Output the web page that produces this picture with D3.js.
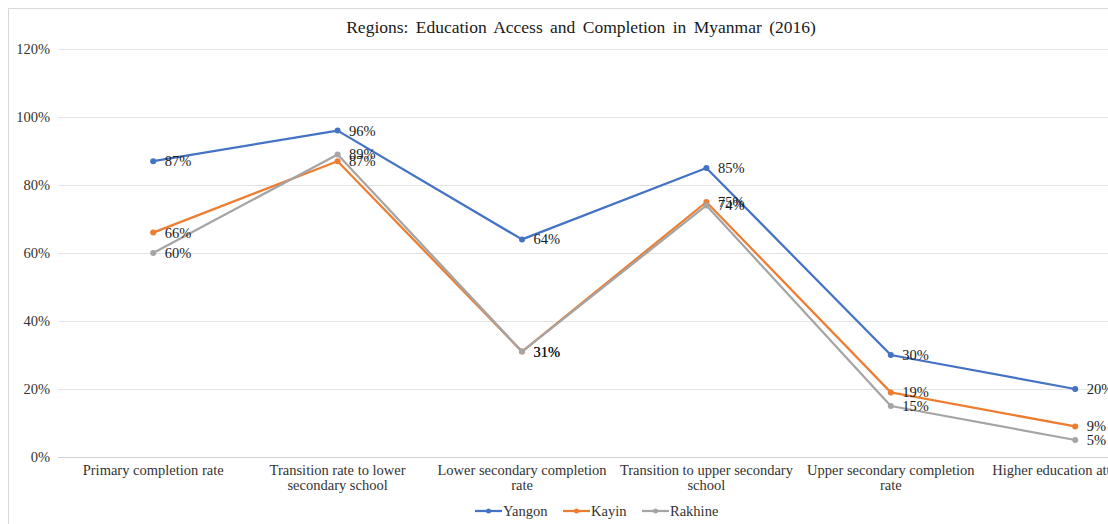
<!DOCTYPE html>
<html>
<head>
<meta charset="utf-8">
<script src="https://cdn.jsdelivr.net/npm/d3@7"></script>
<style>
  html, body { margin: 0; padding: 0; background: #fff; overflow: hidden; }
  svg { display: block; }
</style>
</head>
<body>
<div id="chart"></div>
<script>
// Data
const categories = [
    'Primary completion rate',
    'Transition rate to lower secondary school',
    'Lower secondary completion rate',
    'Transition to upper secondary school',
    'Upper secondary completion rate',
    'Higher education attendance'
];
// wrapped category labels, as they appear under the axis
const categoryLines = [
    ['Primary completion rate'],
    ['Transition rate to lower', 'secondary school'],
    ['Lower secondary completion', 'rate'],
    ['Transition to upper secondary', 'school'],
    ['Upper secondary completion', 'rate'],
    ['Higher education attendance']
];
const seriesNames = ['Yangon', 'Kayin', 'Rakhine'];
const yangon = [0.87, 0.96, 0.64, 0.85, 0.30, 0.20];
const kayin = [0.66, 0.87, 0.31, 0.75, 0.19, 0.09];
const rakhine = [0.60, 0.89, 0.31, 0.74, 0.15, 0.05];
const yTicks = [0, 0.2, 0.4, 0.6, 0.8, 1.0, 1.2];

const colors = ['#4472C4', '#ED7D31', '#A5A5A5'];
const series = [yangon, kayin, rakhine].map((vals, i) => ({
    name: seriesNames[i],
    color: colors[i],
    values: vals.map((v, j) => ({ cat: categories[j], v }))
}));

const W = 1108, H = 524;
const font = '"Liberation Serif", "Times New Roman", serif';
const fs = 14.5;

const svg = d3.select('#chart').append('svg')
    .attr('width', W)
    .attr('height', H)
    .style('font-family', font);

// chart frame (runs off the right and bottom of the picture)
svg.append('rect')
    .attr('x', 8.5).attr('y', 8.5)
    .attr('width', 1300).attr('height', 600)
    .attr('fill', '#fff')
    .attr('stroke', '#d9d9d9');

// plot area: categories every ~184px, first one centred at x=153
const x = d3.scaleBand()
    .domain(categories)
    .range([61, 61 + 184.4 * categories.length]);

const y = d3.scaleLinear()
    .domain([0, 1.2])
    .range([457, 49]);

// gridlines
svg.append('g')
    .selectAll('line')
    .data(yTicks)
    .join('line')
    .attr('x1', 58)
    .attr('x2', 1300)
    .attr('y1', d => Math.round(y(d)) + 0.5)
    .attr('y2', d => Math.round(y(d)) + 0.5)
    .attr('stroke', d => d === 0 ? '#d0d0d0' : '#e3e3e3')
    .attr('stroke-width', 1);

// y axis labels
const yAxis = svg.append('g')
    .attr('transform', 'translate(50,0)')
    .call(d3.axisLeft(y).tickValues(yTicks).tickFormat(d3.format('.0%')).tickSize(0).tickPadding(0));
yAxis.select('.domain').remove();
yAxis.selectAll('text')
    .attr('font-family', font)
    .attr('font-size', fs)
    .attr('fill', '#333');

// x axis labels (wrapped)
const xLab = svg.append('g')
    .selectAll('text')
    .data(categories)
    .join('text')
    .attr('x', d => x(d) + x.bandwidth() / 2)
    .attr('y', 475)
    .attr('text-anchor', 'middle')
    .attr('font-size', fs)
    .attr('fill', '#333');
xLab.each(function (d, i) {
    d3.select(this).selectAll('tspan')
        .data(categoryLines[i])
        .join('tspan')
        .attr('x', x(d) + x.bandwidth() / 2)
        .attr('dy', (t, k) => k === 0 ? 0 : 15)
        .text(t => t);
});

const line = d3.line()
    .x(d => x(d.cat) + x.bandwidth() / 2)
    .y(d => y(d.v));

const sg = svg.append('g')
    .selectAll('g')
    .data(series)
    .join('g');

sg.append('path')
    .attr('d', d => line(d.values))
    .attr('fill', 'none')
    .attr('stroke', d => d.color)
    .attr('stroke-width', 2.25)
    .attr('stroke-linejoin', 'round');

sg.selectAll('circle')
    .data(d => d.values.map(p => ({ ...p, color: d.color })))
    .join('circle')
    .attr('cx', d => x(d.cat) + x.bandwidth() / 2)
    .attr('cy', d => y(d.v))
    .attr('r', 3)
    .attr('fill', d => d.color);

// data labels, to the right of each point
const labels = svg.append('g');
series.forEach(s => {
    labels.selectAll(null)
        .data(s.values)
        .join('text')
        .attr('x', d => x(d.cat) + x.bandwidth() / 2 + 11.5)
        .attr('y', d => y(d.v) + 5)
        .attr('font-size', fs)
        .attr('fill', '#1a1a1a')
        .text(d => d3.format('.0%')(d.v));
});

// legend
const legendX = [475, 563, 642];
const legend = svg.append('g')
    .selectAll('g')
    .data(series)
    .join('g')
    .attr('transform', (d, i) => `translate(${legendX[i]},511)`);
legend.append('line')
    .attr('x1', 0).attr('x2', 27)
    .attr('stroke', d => d.color)
    .attr('stroke-width', 2.25);
legend.append('circle')
    .attr('cx', 13.5).attr('r', 2.5)
    .attr('fill', d => d.color);
legend.append('text')
    .attr('x', 28)
    .attr('y', 5)
    .attr('font-size', fs)
    .attr('fill', '#333')
    .text(d => d.name);

// title
svg.append('text')
    .attr('x', 581)
    .attr('y', 33)
    .attr('text-anchor', 'middle')
    .attr('font-size', 17.5)
    .attr('fill', '#1a1a1a')
    .attr('word-spacing', 3)
    .text('Regions: Education Access and Completion in Myanmar (2016)');
</script>
</body>
</html>
